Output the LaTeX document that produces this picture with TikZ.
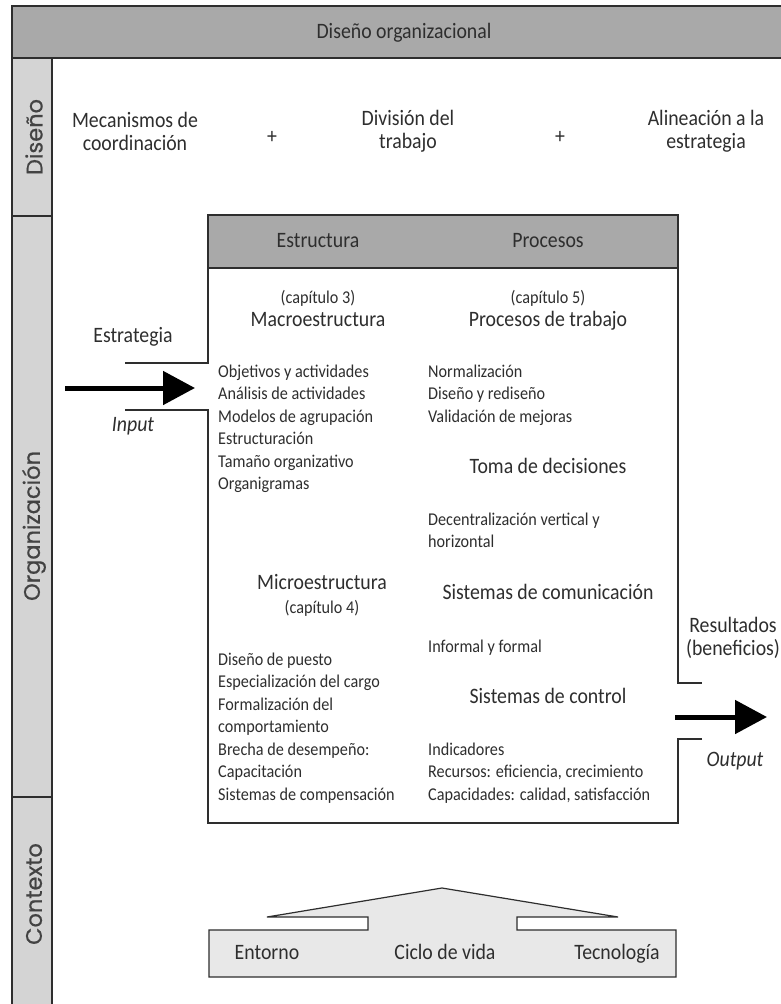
\documentclass[tikz,border=0pt]{standalone}
\usepackage{fontspec}
\setmainfont{Carlito}[FakeStretch=0.9]
\newfontfamily\stripfont{Poppins}[FakeBold=0.6]
\usetikzlibrary{arrows.meta}
\definecolor{ink}{HTML}{2E2E2E}
\definecolor{barfill}{HTML}{A9A9A9}
\definecolor{stripfill}{HTML}{D4D4D4}
\definecolor{ctxfill}{HTML}{E8E8E8}

\begin{document}
\begin{tikzpicture}[x=1pt,y=-1pt,
  frame/.style={draw=ink, line width=1.5pt},
  thinframe/.style={draw=ink, line width=1.2pt},
  head/.style={font=\fontsize{22}{23}\selectfont, text=ink, inner sep=0pt, align=center},
  headb/.style={head, anchor=base},
  small/.style={font=\fontsize{18}{22.5}\selectfont, text=ink, inner sep=0pt},
  smallb/.style={small, anchor=base},
  % multi-line lists: the base anchor sits on the last line
  listbox/.style={small, align=left, anchor=base west},
  striplabel/.style={font=\stripfont\fontsize{22.5}{24}\selectfont, text=ink!90, rotate=90, inner sep=0pt},
  bigarrow/.style={line width=5pt, draw=black, -{Triangle[length=32pt,width=33pt]}},
]
\useasboundingbox (0,0) rectangle (781,1004);
\fill[white] (0,0) rectangle (781,1004);

% title bar and side strip
\fill[barfill] (12,6) rectangle (790,58);
\fill[stripfill] (12,58) rectangle (52,1010);
\draw[frame] (790,6) -- (12,6) -- (12,1010);
\draw[frame] (12,58) -- (790,58);
\draw[frame] (52,58) -- (52,1010);
\draw[frame] (12,216) -- (52,216);
\draw[frame] (12,797) -- (52,797);

\node[headb] (title) at (404,38.5) {Diseño organizacional};
\node[striplabel] (lblD) at (34,137) {Diseño};
\node[striplabel] (lblO) at (34,526) {Organización};
\node[striplabel] (lblC) at (34,894) {Contexto};

% design row
\node[head] (coord) at (135,131) {Mecanismos de\\coordinación};
\node[head] (plus1) at (272,137) {+};
\node[head] (div) at (408,131) {División del\\trabajo};
\node[head] (plus2) at (560,137) {+};
\node[head] (alin) at (706,131) {Alineación a la\\estrategia};

% organisation box
\fill[barfill] (208,215) rectangle (678,268);
\draw[frame] (208,268) -- (678,268);
\draw[frame] (125,363) -- (208,363) -- (208,215) -- (678,215) -- (678,683) -- (702,683);
\draw[frame] (702,739) -- (678,739) -- (678,823) -- (208,823) -- (208,410) -- (125,410);

\node[headb] (estr) at (318,247.5) {Estructura};
\node[headb] (proc) at (548,247.5) {Procesos};

\node[smallb] (cap3) at (318,303.5) {(capítulo 3)};
\node[headb] (macro) at (318,326.5) {Macroestructura};
\node[smallb] (cap5) at (548,303.5) {(capítulo 5)};
\node[headb] (ptrab) at (548,326.5) {Procesos de trabajo};

\node[listbox] (macrolist) at (218,489.5) {Objetivos y actividades\\Análisis de actividades\\Modelos de agrupación\\Estructuración\\Tamaño organizativo\\Organigramas};
\node[listbox] (ptrablist) at (428,422) {Normalización\\Diseño y rediseño\\Validación de mejoras};

\node[headb] (toma) at (548,473.5) {Toma de decisiones};
\node[listbox] (tomalist) at (428,547.5) {Decentralización vertical y\\horizontal};

\node[headb] (micro) at (322,589.5) {Microestructura};
\node[smallb] (cap4) at (322,613.5) {(capítulo 4)};
\node[headb] (comun) at (548,599.5) {Sistemas de comunicación};
\node[listbox] (comunlist) at (428,652) {Informal y formal};

\node[listbox] (microlist) at (218,800) {Diseño de puesto\\Especialización del cargo\\Formalización del\\comportamiento\\Brecha de desempeño:\\Capacitación\\Sistemas de compensación};
\node[headb] (control) at (548,703.5) {Sistemas de control};
\node[listbox] (controllist) at (428,800) {Indicadores\\Recursos: eficiencia, crecimiento\\Capacidades: calidad, satisfacción};

% input and output
\node[headb] (estrat) at (133,342.5) {Estrategia};
\node[headb, font=\fontsize{22}{23}\selectfont\itshape] (input) at (133,431.5) {Input};
\coordinate (inS) at (65,388);
\coordinate (inT) at (195,388);
\draw[bigarrow] (inS) -- (inT);

\node[head] (result) at (733,638) {Resultados\\(beneficios)};
\node[headb, font=\fontsize{22}{23}\selectfont\itshape] (output) at (735,766.5) {Output};
\coordinate (outS) at (675,717);
\coordinate (outT) at (767,717);
\draw[bigarrow] (outS) -- (outT);

% context block
\draw[thinframe, fill=ctxfill] (267,917) -- (442,888) -- (618,917) -- (517,917) -- (517,930) -- (676,930) -- (676,977) -- (209,977) -- (209,930) -- (368,930) -- (368,917) -- cycle;
\node[headb] (entorno) at (267,959.5) {Entorno};
\node[headb] (ciclo) at (445,959.5) {Ciclo de vida};
\node[headb] (tecno) at (617,959.5) {Tecnología};
\end{tikzpicture}
\end{document}
